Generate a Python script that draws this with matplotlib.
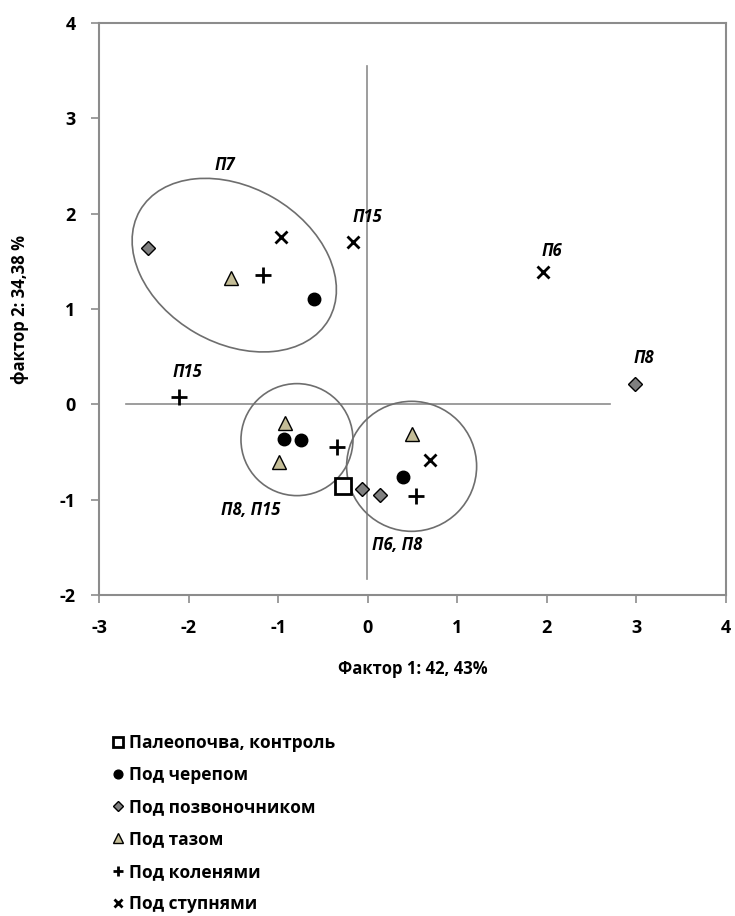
import matplotlib
matplotlib.use('Agg')
import matplotlib.pyplot as plt
from matplotlib.patches import Ellipse
from matplotlib.transforms import ScaledTranslation

plt.rcParams['font.family'] = ['Open Sans', 'DejaVu Sans']
plt.rcParams['axes.unicode_minus'] = False

# factor scores
control_x = [-0.28]
control_y = [-0.86]
skull_x = [-0.60, -0.93, -0.75, 0.39]
skull_y = [1.10, -0.36, -0.37, -0.76]
spine_x = [-2.45, -0.06, 0.14, 2.98]
spine_y = [1.64, -0.89, -0.95, 0.21]
pelvis_x = [-1.53, -0.92, -0.99, 0.49]
pelvis_y = [1.33, -0.20, -0.60, -0.31]
knees_x = [-1.17, -2.11, -0.34, 0.54]
knees_y = [1.36, 0.08, -0.45, -0.96]
feet_x = [-0.97, -0.17, 1.96, 0.69]
feet_y = [1.76, 1.70, 1.39, -0.58]

labels = ['П7', 'П15', 'П6', 'П8', 'П15', 'П8, П15', 'П6, П8']
label_x = [-1.59, 0.0, 2.06, 3.08, -2.01, -1.31, 0.33]
label_y = [2.51, 1.97, 1.61, 0.49, 0.34, -1.11, -1.48]

# groups: centre (data), width/height in inches, angle
group_cx = [-1.49, -0.79, 0.49]
group_cy = [1.46, -0.37, -0.65]
group_w = [2.18, 1.12, 1.30]
group_h = [1.56, 1.12, 1.30]
group_ang = [-30, 0, 0]

fig = plt.figure(figsize=(7.35, 9.16), dpi=100)
ax = fig.add_axes([0.1347, 0.3504, 0.8531, 0.6245])

# reference cross
ax.plot([-2.7, 2.7], [0, 0], color='#8c8c8c', lw=1.2, zorder=1)
ax.plot([-0.01, -0.01], [-1.83, 3.55], color='#8c8c8c', lw=1.2, zorder=1)

for cx, cy, w, h, a in zip(group_cx, group_cy, group_w, group_h, group_ang):
    tr = fig.dpi_scale_trans + ScaledTranslation(cx, cy, ax.transData)
    ax.add_patch(Ellipse((0, 0), w, h, angle=a, transform=tr, fill=False,
                         edgecolor='#6e6e6e', lw=1.2, zorder=2))

ax.plot(control_x, control_y, 's', ms=11, mfc='white', mec='black', mew=2,
        ls='none', label='Палеопочва, контроль', zorder=4)
ax.plot(skull_x, skull_y, 'o', ms=9, color='black', ls='none',
        label='Под черепом', zorder=4)
ax.plot(spine_x, spine_y, 'D', ms=7, mfc='#808080', mec='black', mew=1,
        ls='none', label='Под позвоночником', zorder=4)
ax.plot(pelvis_x, pelvis_y, '^', ms=10, mfc='#c4bd97', mec='black', mew=1,
        ls='none', label='Под тазом', zorder=4)
ax.plot(knees_x, knees_y, '+', ms=11, mew=2, color='black', ls='none',
        label='Под коленями', zorder=4)
ax.plot(feet_x, feet_y, 'x', ms=8, mew=2, color='black', ls='none',
        label='Под ступнями', zorder=4)

for t, x, y in zip(labels, label_x, label_y):
    ax.text(x, y, t, ha='center', va='center', fontsize=12,
            fontweight='bold', fontstyle='italic')

ax.set_xlim(-3, 4)
ax.set_ylim(-2, 4)
ax.set_xticks(range(-3, 5))
ax.set_yticks(range(-2, 5))
for s in ax.spines.values():
    s.set_color('#8c8c8c')
    s.set_linewidth(1.5)
ax.tick_params(direction='out', length=6, width=1.2, color='#8c8c8c',
               labelsize=13, pad=11)
for lab in ax.get_xticklabels() + ax.get_yticklabels():
    lab.set_fontweight('bold')

ax.set_xlabel('Фактор 1: 42, 43%', fontsize=12, fontweight='bold', labelpad=17)
ax.set_ylabel('фактор 2: 34,38 %', fontsize=12, fontweight='bold', labelpad=22)

handles, names = ax.get_legend_handles_labels()
fig.legend(handles, names, loc='upper left', bbox_to_anchor=(0.128, 0.216),
           frameon=False, handletextpad=0.1, handlelength=1.0,
           labelspacing=0.82, markerscale=0.7, prop={'weight': 'bold', 'size': 12.5})

fig.savefig('out.png', dpi=100)
